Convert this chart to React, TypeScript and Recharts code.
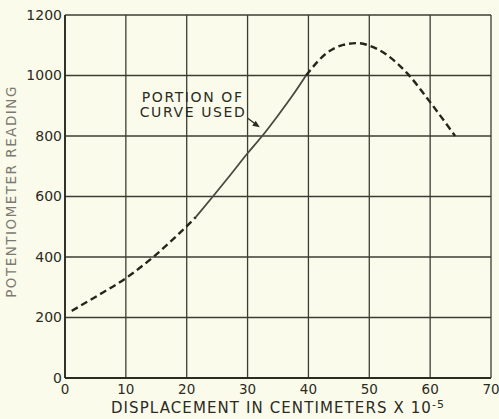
import React from 'react';
import { LineChart, Line, XAxis, YAxis, CartesianGrid, ReferenceDot, Label } from 'recharts';

const xTicks = [0, 10, 20, 30, 40, 50, 60, 70];
const yTicks = [0, 200, 400, 600, 800, 1000, 1200];

const lowerDashed = [
  { x: 1.1, y: 222 }, { x: 5, y: 268 }, { x: 10, y: 330 }, { x: 14.5, y: 400 },
  { x: 18, y: 463 }, { x: 21.5, y: 532 },
];
const usedPortion = [
  { x: 21.5, y: 532 }, { x: 24.3, y: 600 }, { x: 27, y: 667 }, { x: 30, y: 743 },
  { x: 32.4, y: 800 }, { x: 35, y: 868 }, { x: 37.5, y: 937 }, { x: 39.6, y: 1000 },
];
const upperDashed = [
  { x: 39.6, y: 1000 }, { x: 43, y: 1074 }, { x: 45.7, y: 1101 }, { x: 48.1, y: 1107 },
  { x: 50, y: 1099 }, { x: 52.9, y: 1068 }, { x: 56.2, y: 1008 }, { x: 60, y: 912 },
  { x: 64.1, y: 800 },
];
const arrowTip = { x: 32.0, y: 829 };

const FONT = '"DejaVu Sans", sans-serif';
const INK = '#2b2b22';

const ArrowNote = (props: any) => {
  const { cx, cy } = props;
  if (cx == null || cy == null) return null;
  return (
    <g>
      <text x={cx - 118} y={cy - 25} fontFamily={FONT} fontSize={14} letterSpacing={1.6} fill={INK}>PORTION OF</text>
      <text x={cx - 120} y={cy - 10} fontFamily={FONT} fontSize={14} letterSpacing={1.6} fill={INK}>CURVE USED</text>
      <line x1={cx - 12} y1={cy - 9} x2={cx - 4} y2={cy - 3} stroke={INK} strokeWidth={1.3} />
      <path d={`M ${cx} ${cy} L ${cx - 7.5} ${cy - 1.5} L ${cx - 4} ${cy - 6.5} Z`} fill={INK} />
    </g>
  );
};

const XTitle = (props: any) => {
  const vb = props.viewBox || {};
  const cx = vb.x + vb.width / 2;
  const y = vb.y + 35;
  return (
    <text x={cx} y={y} textAnchor="middle" fontFamily={FONT} fontSize={15} letterSpacing={1.1} fill={INK}>
      DISPLACEMENT IN CENTIMETERS X 10<tspan dy={-5} fontSize={11}>-5</tspan>
    </text>
  );
};

const YTitle = (props: any) => {
  const vb = props.viewBox || {};
  const cy = vb.y + vb.height / 2 - 5;
  const x = 16;
  return (
    <text x={x} y={cy} transform={`rotate(-90 ${x} ${cy})`} textAnchor="middle" fontFamily={FONT}
      fontSize={13.5} letterSpacing={1.5} fill="#7a7a70">
      POTENTIOMETER READING
    </text>
  );
};

export default function App() {
  return (
    <div style={{ position: 'fixed', left: 0, top: 0, width: 499, height: 419, background: '#fbfbec' }}>
      <LineChart width={499} height={419} margin={{ top: 15, right: 8, left: 0, bottom: 0 }}>
        <CartesianGrid stroke="#3c3c33" strokeWidth={1.3} />
        <XAxis type="number" dataKey="x" domain={[0, 70]} ticks={xTicks} height={41}
          tickLine={false} tickSize={0} tickMargin={6} axisLine={{ stroke: INK, strokeWidth: 1.8 }}
          tick={{ fontFamily: FONT, fontSize: 13.5, fill: INK }} allowDataOverflow>
          <Label content={<XTitle />} />
        </XAxis>
        <YAxis type="number" dataKey="y" domain={[0, 1200]} ticks={yTicks} width={65}
          tickLine={false} tickSize={0} tickMargin={3} axisLine={{ stroke: INK, strokeWidth: 1.8 }}
          tick={{ fontFamily: FONT, fontSize: 14, fill: INK }} allowDataOverflow>
          <Label content={<YTitle />} />
        </YAxis>
        <Line data={lowerDashed} dataKey="y" type="monotone" stroke="#25251a" strokeWidth={2.4}
          strokeDasharray="7 4" dot={false} isAnimationActive={false} />
        <Line data={usedPortion} dataKey="y" type="monotone" stroke="#4a4a40" strokeWidth={1.8}
          dot={false} isAnimationActive={false} />
        <Line data={upperDashed} dataKey="y" type="monotone" stroke="#25251a" strokeWidth={2.4}
          strokeDasharray="7 4" dot={false} isAnimationActive={false} />
        <ReferenceDot x={arrowTip.x} y={arrowTip.y} r={0} shape={<ArrowNote />} />
      </LineChart>
    </div>
  );
}
